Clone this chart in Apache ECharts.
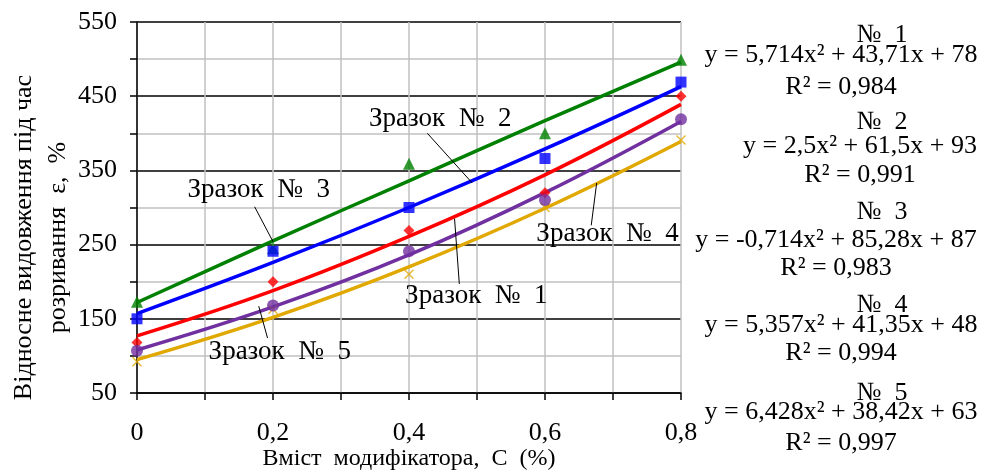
<!DOCTYPE html>
<html><head><meta charset="utf-8">
<script src="https://cdn.jsdelivr.net/npm/echarts@6/dist/echarts.min.js"></script>
<style>html,body{margin:0;padding:0;background:#fff}#c{width:985px;height:470px}</style>
</head><body><div id="c"></div>
<script>
const xValues = [0, 0.2, 0.4, 0.6, 0.8];
// measured points
const sample1Points = [118, 200, 269, 320, 450];
const sample2Points = [150, 241, 300, 366, 469];
const sample3Points = [173, 245, 359, 400, 499];
const sample4Points = [92, 163, 210, 300, 391];
const sample5Points = [107, 168, 241, 310, 419];
// trend lines
const sample1Trend = [127, 188, 261, 344, 439];
const sample2Trend = [157, 226, 300, 379, 463];
const sample3Trend = [172, 255, 336, 417, 496];
const sample4Trend = [95, 152, 220, 299, 389];
const sample5Trend = [108, 166, 236, 320, 416];
const numberLabels = ['№  1', '№  2', '№  3', '№  4', '№  5'];
const equations = ['y = 5,714x² + 43,71x + 78', 'y = 2,5x² + 61,5x + 93', 'y = -0,714x² + 85,28x + 87', 'y = 5,357x² + 41,35x + 48', 'y = 6,428x² + 38,42x + 63'];
const r2Labels = ['R² = 0,984', 'R² = 0,991', 'R² = 0,983', 'R² = 0,994', 'R² = 0,997'];
const sampleNames = ['Зразок  №  1', 'Зразок  №  2', 'Зразок  №  3', 'Зразок  №  4', 'Зразок  №  5'];
// annotation: label position and leader line [from, to] in data coords
const ann1 = {label: [0.499, 181], from: [0.474, 197], to: [0.467, 285]};
const ann2 = {label: [0.446, 419], from: [0.427, 400], to: [0.493, 333]};
const ann3 = {label: [0.179, 324], from: [0.173, 301], to: [0.2, 254]};
const ann4 = {label: [0.692, 264], from: [0.668, 276], to: [0.676, 333]};
const ann5 = {label: [0.21, 106], from: [0.192, 124], to: [0.179, 167]};

const FONT = '"Liberation Serif", "DejaVu Serif", serif';
const colors = {s1: '#ff0000', s2: '#0000ff', s3: '#008000', s4: '#e0a800', s5: '#7030a0'};
const crossPath = 'path://M0,1 L1,0 L5,4 L9,0 L10,1 L6,5 L10,9 L9,10 L5,6 L1,10 L0,9 L4,5 Z';

function pairs(ys) { return xValues.map((x, i) => [x, ys[i]]); }

function trend(name, ys, color, ann, label) {
  return {
    name: name, type: 'line', data: pairs(ys), smooth: 0.4, symbol: 'none',
    lineStyle: {color: color, width: 3.5}, z: 2, silent: true,
    markLine: {
      silent: true, symbol: 'none', animation: false,
      lineStyle: {color: '#000', width: 1, type: 'solid'},
      label: {show: false},
      data: [[{coord: ann.from}, {coord: ann.to}]]
    },
    markPoint: {
      silent: true, symbol: 'circle', symbolSize: 0, animation: false,
      label: {show: true, formatter: label, color: '#000', fontFamily: FONT, fontSize: 27, position: 'inside'},
      data: [{coord: ann.label}]
    }
  };
}
function pts(name, ys, color, symbol, size) {
  return {
    name: name, type: 'scatter', data: pairs(ys), symbol: symbol, symbolSize: size,
    itemStyle: {color: color}, z: 3
  };
}

const chart = echarts.init(document.getElementById('c'), null, {renderer: 'canvas'});
const graphics = [];
const blockCx = [841, 860, 836, 841, 841];
const numY = [35, 122, 212, 305, 393];
const eqY = [55, 146, 240, 325, 412];
const r2Y = [87, 175, 268, 353, 443];
const gfont = '26px "Liberation Serif", "DejaVu Serif", serif';
for (let i = 0; i < 5; i++) {
  graphics.push({type: 'text', z: 10, style: {text: numberLabels[i], x: 882, y: numY[i], textAlign: 'center', textVerticalAlign: 'middle', font: gfont, fill: '#000'}});
  graphics.push({type: 'text', z: 10, style: {text: equations[i], x: blockCx[i], y: eqY[i], textAlign: 'center', textVerticalAlign: 'middle', font: gfont, fill: '#000'}});
  graphics.push({type: 'text', z: 10, style: {text: r2Labels[i], x: blockCx[i], y: r2Y[i], textAlign: 'center', textVerticalAlign: 'middle', font: gfont, fill: '#000'}});
}

chart.setOption({
  animation: false,
  backgroundColor: '#fff',
  grid: {left: 137, right: 304, top: 22, bottom: 77, containLabel: false, outerBoundsMode: 'none'},
  xAxis: {
    type: 'value', min: 0, max: 0.8, interval: 0.1,
    name: 'Вміст  модифікатора,  С  (%)', nameLocation: 'middle', nameGap: 54, nameMoveOverlap: false,
    nameTextStyle: {fontFamily: FONT, fontSize: 24, color: '#000'},
    axisLine: {show: true, lineStyle: {color: '#000', width: 1.5}},
    axisTick: {show: true, length: 7, lineStyle: {color: '#000', width: 1.5}},
    axisLabel: {
      color: '#000', fontFamily: FONT, fontSize: 26, margin: 27,
      formatter: v => (Math.round(v * 10) % 2 === 0) ? String(Math.round(v * 10) / 10).replace('.', ',') : ''
    },
    splitLine: {show: true, lineStyle: {color: '#c0c0c0', width: 1.5}}
  },
  yAxis: {
    type: 'value', min: 50, max: 550, interval: 50,
    name: 'Відносне видовження під час\nрозривання  ε,  %', nameLocation: 'middle', nameGap: 62, nameRotate: 90, nameMoveOverlap: false,
    nameTextStyle: {fontFamily: FONT, fontSize: 26, color: '#000', lineHeight: 34, align: 'center', padding: [0, 60, 0, 0]},
    axisLine: {show: true, lineStyle: {color: '#000', width: 1.5}},
    axisTick: {show: true, length: 7, lineStyle: {color: '#000', width: 1.5}},
    axisLabel: {
      color: '#000', fontFamily: FONT, fontSize: 26, margin: 20,
      formatter: v => ((v - 50) % 100 === 0) ? String(v) : ''
    },
    splitLine: {show: true, lineStyle: {color: ['#000', '#c0c0c0'], width: 1.5}}
  },
  series: [
    trend('t3', sample3Trend, colors.s3, ann3, sampleNames[2]),
    trend('t2', sample2Trend, colors.s2, ann2, sampleNames[1]),
    trend('t1', sample1Trend, colors.s1, ann1, sampleNames[0]),
    trend('t5', sample5Trend, colors.s5, ann5, sampleNames[4]),
    trend('t4', sample4Trend, colors.s4, ann4, sampleNames[3]),
    pts('№ 3', sample3Points, colors.s3, 'triangle', 12),
    pts('№ 1', sample1Points, colors.s1, 'diamond', 11),
    pts('№ 2', sample2Points, colors.s2, 'rect', 11),
    pts('№ 4', sample4Points, colors.s4, crossPath, 10),
    pts('№ 5', sample5Points, colors.s5, 'circle', 12)
  ],
  graphic: graphics
});
</script>
</body></html>
